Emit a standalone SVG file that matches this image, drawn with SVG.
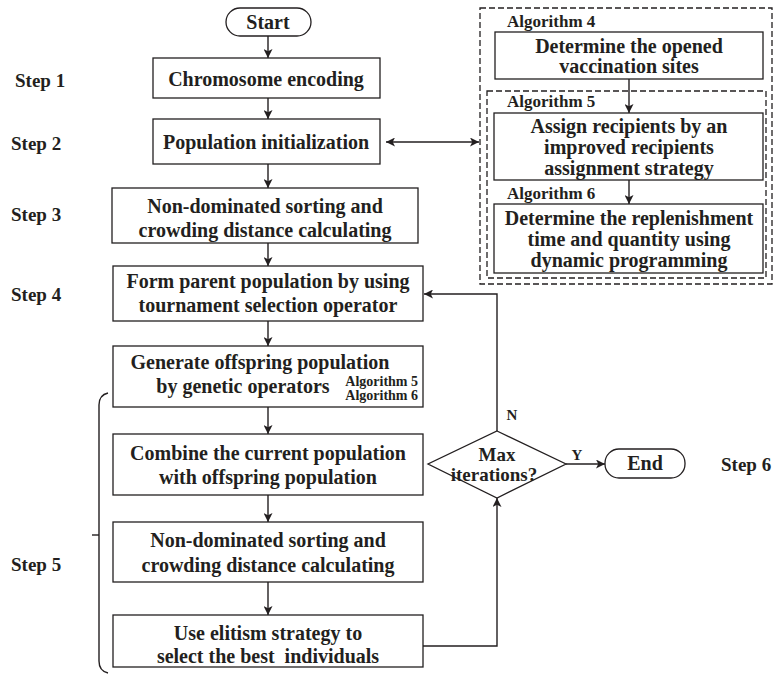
<svg xmlns="http://www.w3.org/2000/svg" width="774" height="679" viewBox="0 0 774 679">
<defs>
<marker id="ah" viewBox="0 0 10 10" refX="10" refY="5" markerWidth="9" markerHeight="9" markerUnits="userSpaceOnUse" orient="auto-start-reverse">
<path d="M0,0 L10,5 L0,10 L2.5,5 Z" fill="#231f20"/>
</marker>
</defs>
<style>
text{font-family:"Liberation Serif","Times New Roman",serif;font-weight:bold;fill:#231f20}
.t{font-size:20px;text-anchor:middle}
.s{font-size:19px}
.a{font-size:17px}
.sm{font-size:14px}
.box{fill:#fff;stroke:#231f20;stroke-width:1.3}
.dash{fill:none;stroke:#231f20;stroke-width:1.3;stroke-dasharray:6 3}
.ln{fill:none;stroke:#231f20;stroke-width:1.4}
</style>
<rect width="774" height="679" fill="#fff"/>

<g id="labels">
<text class="s" x="15" y="87">Step 1</text>
<text class="s" x="11" y="150">Step 2</text>
<text class="s" x="11" y="221">Step 3</text>
<text class="s" x="11" y="301">Step 4</text>
<text class="s" x="11" y="571">Step 5</text>
<text class="s" x="721" y="471">Step 6</text>
</g>

<g id="connectors">
<line class="ln" x1="268" y1="36" x2="268" y2="58" marker-end="url(#ah)"/>
<line class="ln" x1="268" y1="98" x2="268" y2="119" marker-end="url(#ah)"/>
<line class="ln" x1="268" y1="164" x2="268" y2="188" marker-end="url(#ah)"/>
<line class="ln" x1="268" y1="243" x2="268" y2="266" marker-end="url(#ah)"/>
<line class="ln" x1="268" y1="321" x2="268" y2="346" marker-end="url(#ah)"/>
<line class="ln" x1="268" y1="407" x2="268" y2="434" marker-end="url(#ah)"/>
<line class="ln" x1="268" y1="495" x2="268" y2="522" marker-end="url(#ah)"/>
<line class="ln" x1="268" y1="582" x2="268" y2="615" marker-end="url(#ah)"/>
<line class="ln" x1="386" y1="142" x2="479" y2="142" marker-start="url(#ah)" marker-end="url(#ah)"/>
<line class="ln" x1="629" y1="79" x2="629" y2="113" marker-end="url(#ah)"/>
<line class="ln" x1="629" y1="180" x2="629" y2="204" marker-end="url(#ah)"/>
<polyline class="ln" points="497,431 497,294 424,294" marker-end="url(#ah)"/>
<polyline class="ln" points="423,646 497,646 497,498" marker-end="url(#ah)"/>
<line class="ln" x1="566" y1="464" x2="605" y2="464" marker-end="url(#ah)"/>
<path class="ln" d="M108,393 Q99,395 99,405 L99,661 Q99,671 108,673"/>
<line class="ln" x1="92" y1="535" x2="99" y2="535"/>
<text x="512" y="420" text-anchor="middle" style="font-size:15px">N</text>
<text x="577" y="460" text-anchor="middle" style="font-size:15px">Y</text>
</g>

<g id="start">
<rect class="box" x="226" y="8" width="85" height="28" rx="14"/>
<text class="t" x="268" y="29">Start</text>
</g>

<g id="step1">
<rect class="box" x="153" y="58" width="227" height="40"/>
<text class="t" x="266" y="86">Chromosome encoding</text>
</g>

<g id="step2">
<rect class="box" x="153" y="119" width="227" height="45"/>
<text class="t" x="266" y="149">Population initialization</text>
</g>

<g id="step3">
<rect class="box" x="112" y="188" width="306" height="55"/>
<text class="t" x="265" y="213">Non-dominated sorting and</text>
<text class="t" x="265" y="237">crowding distance calculating</text>
</g>

<g id="step4">
<rect class="box" x="113" y="266" width="310" height="55"/>
<text class="t" x="268" y="288">Form parent population by using</text>
<text class="t" x="268" y="312">tournament selection operator</text>
</g>

<g id="generate">
<rect class="box" x="113" y="346" width="310" height="61"/>
<text class="t" x="260" y="369">Generate offspring population</text>
<text class="t" x="243" y="393">by genetic operators</text>
<text class="sm" x="418" y="386" text-anchor="end">Algorithm 5</text>
<text class="sm" x="418" y="400" text-anchor="end">Algorithm 6</text>
</g>

<g id="combine">
<rect class="box" x="113" y="434" width="310" height="61"/>
<text class="t" x="268" y="460">Combine the current population</text>
<text class="t" x="268" y="484">with offspring population</text>
</g>

<g id="sorting2">
<rect class="box" x="113" y="522" width="310" height="60"/>
<text class="t" x="268" y="547">Non-dominated sorting and</text>
<text class="t" x="268" y="572">crowding distance calculating</text>
</g>

<g id="elitism">
<rect class="box" x="113" y="615" width="310" height="52"/>
<text class="t" x="268" y="640">Use elitism strategy to</text>
<text class="t" x="268" y="663" xml:space="preserve">select the best  individuals</text>
</g>

<g id="decision">
<polygon class="box" points="497,431 566,464 497,498 428,464"/>
<text class="t" x="497" y="461" style="font-size:19px">Max</text>
<text class="t" x="494" y="481" style="font-size:19px">iterations?</text>
</g>

<g id="end">
<rect class="box" x="605" y="449" width="80" height="29" rx="14"/>
<text class="t" x="645" y="470">End</text>
</g>

<g id="algorithms">
<rect class="dash" x="480" y="8" width="292" height="276"/>
<rect class="dash" x="487" y="91" width="279" height="187"/>
<text class="a" x="507" y="27">Algorithm 4</text>
<text class="a" x="507" y="107">Algorithm 5</text>
<text class="a" x="507" y="199">Algorithm 6</text>
</g>

<g id="alg4">
<rect class="box" x="495" y="32" width="268" height="47"/>
<text class="t" x="629" y="53">Determine the opened</text>
<text class="t" x="629" y="73">vaccination sites</text>
</g>

<g id="alg5">
<rect class="box" x="494" y="113" width="269" height="67"/>
<text class="t" x="629" y="133">Assign recipients by an</text>
<text class="t" x="629" y="154">improved recipients</text>
<text class="t" x="629" y="175">assignment strategy</text>
</g>

<g id="alg6">
<rect class="box" x="494" y="204" width="269" height="69"/>
<text class="t" x="629" y="225">Determine the replenishment</text>
<text class="t" x="629" y="246">time and quantity using</text>
<text class="t" x="629" y="267">dynamic programming</text>
</g>
</svg>
